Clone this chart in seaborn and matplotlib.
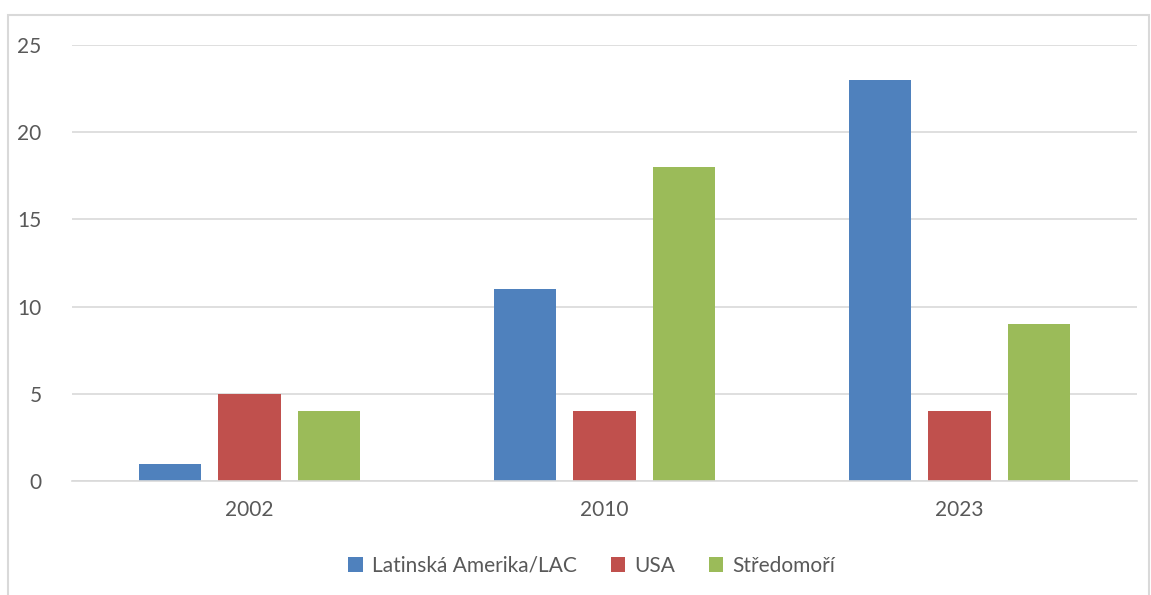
import pandas as pd
import matplotlib.pyplot as plt
import seaborn as sns
from matplotlib.patches import Rectangle

years = ['2002', '2010', '2023']
regions = ['Latinská Amerika/LAC', 'USA', 'Středomoří']
lac = [1, 11, 23]
usa = [5, 4, 4]
stredomori = [4, 18, 9]

colors = ['#4F81BD', '#C0504D', '#9BBB59']
text_color = '#595959'
grid_color = '#D9D9D9'

df = pd.DataFrame({
    'Rok': years * 3,
    'Region': [regions[0]] * 3 + [regions[1]] * 3 + [regions[2]] * 3,
    'Hodnota': lac + usa + stredomori,
})

sns.set_style('white')
plt.rcParams['font.family'] = ['Lato', 'DejaVu Sans']

fig = plt.figure(figsize=(11.51, 5.95), dpi=100)
ax = fig.add_axes([72 / 1151, 1 - 481 / 595, (1137 - 72) / 1151, (481 - 45) / 595])

sns.barplot(data=df, x='Rok', y='Hodnota', hue='Region', palette=colors,
            width=0.67, gap=0.215, ax=ax, legend=True, saturation=1,
            linewidth=0)

ax.set_xlim(-0.5, 2.5)
ax.set_ylim(0, 25)
ax.set_yticks([0, 5, 10, 15, 20, 25])
ax.yaxis.grid(True, color=grid_color, linewidth=1.2)
ax.set_axisbelow(True)
for side in ['top', 'right', 'left']:
    ax.spines[side].set_visible(False)
ax.spines['bottom'].set_color(grid_color)
ax.spines['bottom'].set_linewidth(1.2)
ax.tick_params(axis='both', length=0, labelsize=15, colors=text_color)
ax.tick_params(axis='y', pad=22)
ax.tick_params(axis='x', pad=14)
ax.set_xlabel('')
ax.set_ylabel('')

ax.legend(loc='center', bbox_to_anchor=(592 / 1151, 1 - 566 / 595),
          bbox_transform=fig.transFigure, ncol=3, frameon=False,
          fontsize=15, labelcolor=text_color, handlelength=0.7,
          handleheight=0.7, handletextpad=0.45, columnspacing=1.6)

# outer chart frame
fig.patches.append(Rectangle((8 / 1151, -0.05), (1149 - 8) / 1151, 1.05 - 15 / 595,
                             transform=fig.transFigure, fill=False,
                             edgecolor=grid_color, linewidth=1.5))

plt.savefig('out.png', dpi=100)
plt.close()
